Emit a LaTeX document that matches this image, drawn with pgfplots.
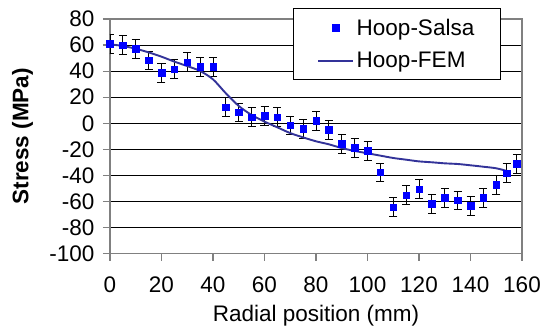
\documentclass[border=0pt]{standalone}
\usepackage{pgfplots}
\pgfplotsset{compat=1.18}
\usepackage{fontspec}
\setmainfont{Liberation Sans}
\definecolor{femblue}{RGB}{51,51,153}
\definecolor{salsablue}{RGB}{0,0,255}
\pgfplotsset{femleg/.style={legend image code/.code={\draw[##1] (0bp,0bp) -- (35bp,0bp);}},
  salsaleg/.style={legend image code/.code={\draw[##1] plot coordinates {(17.5bp,0bp)};}}}
\begin{document}
\begin{tikzpicture}
\begin{axis}[
  at={(0,0)}, anchor=south west,
  scale only axis, width=412bp, height=234.7bp,
  xmin=0, xmax=160, ymin=-100, ymax=80,
  xtick={0,20,...,160}, ytick={-100,-80,...,80},
  ymajorgrids, grid style={black, line width=0.8bp},
  axis line style={gray, line width=1.2bp},
  tick style={gray, line width=1.2bp},
  major tick length=7bp, tick align=outside, tick pos=left,
  font=\fontsize{22.5bp}{26bp}\selectfont,
  /pgf/number format/assume math mode=true,
  xticklabel style={yshift=-13bp},
  yticklabel style={xshift=-5bp},
  xlabel={Radial position (mm)},
  ylabel={\bfseries Stress (MPa)},
  xlabel style={at={(axis description cs:0.5,-0.2654)}, anchor=center},
  ylabel style={at={(axis description cs:-0.2124,0.5)}, anchor=center},
  legend style={at={(rel axis cs:0.444,1.047)}, anchor=north west,
    draw=black, fill=white, line width=0.8bp,
    font=\fontsize{22.5bp}{26bp}\selectfont,
    nodes={inner sep=2.5bp},
    inner xsep=24bp, inner ysep=8bp, row sep=10.5bp},
  legend cell align=left,
]
\addplot[only marks, mark=square*, mark size=3.3bp, color=salsablue, salsaleg,
  error bars/.cd, y dir=both, y fixed=7.2,
  error bar style={black, line width=0.8bp},
  error mark options={black, line width=0.8bp, mark size=4bp, rotate=90}]
  coordinates {
(0,61.0) (5,60.0) (10,57.2) (15,48.3) (20,38.8) (25,41.6) (30,46.8) (35,43.4)
(40,43.4) (45,12.3) (50,8.4) (55,4.8) (60,5.8) (65,4.8) (70,-1.6) (75,-4.3)
(80,2.0) (85,-5.1) (90,-15.6) (95,-18.7) (100,-21.2) (105,-37.6) (110,-64.4)
(115,-55.2) (120,-50.6) (125,-61.6) (130,-57.1) (135,-59.1) (140,-63.4)
(145,-57.1) (150,-47.1) (154,-38.3) (158,-31.2)
};
\addlegendentry{Hoop-Salsa}
\addplot[femblue, line width=1.9bp, smooth, tension=0.5, no marks, femleg]
  coordinates {
(0,60.6) (5,59.3) (10,57.2) (15,54.4) (20,51.1) (25,47.3) (30,43.9) (35,40.1)
(40,33.7) (45,23.0) (50,13.3) (55,6.4) (60,1.3) (65,-3.1) (70,-7.5) (75,-10.8)
(80,-13.8) (85,-16.1) (90,-19.0) (95,-21.2) (100,-23.0) (105,-24.8) (110,-26.6)
(115,-27.9) (120,-29.2) (125,-29.9) (130,-30.7) (135,-31.2) (140,-32.2)
(145,-33.3) (150,-34.5) (155,-37.0)
};
\addlegendentry{Hoop-FEM}
\draw[gray, line width=1.2bp] (rel axis cs:1,0) -- (rel axis cs:1,1);
\end{axis}
\pgfresetboundingbox
\path[use as bounding box] (-110bp,-79.3bp) rectangle (434bp,253.7bp);
\end{tikzpicture}
\end{document}
